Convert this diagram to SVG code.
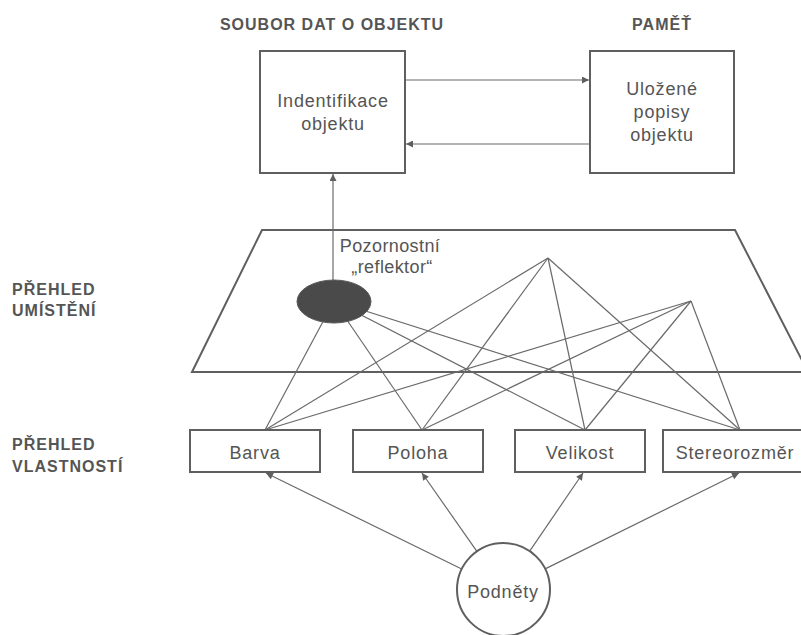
<svg xmlns="http://www.w3.org/2000/svg" width="801" height="635" viewBox="0 0 801 635">
<style>
  .bg { fill: #ffffff; }
  .box { fill: #ffffff; stroke: #5f5f5f; stroke-width: 2; }
  .plane { fill: none; stroke: #5f5f5f; stroke-width: 2; stroke-linejoin: miter; }
  .ln { stroke: #6a6a6a; stroke-width: 1.2; fill: none; }
  .arr { stroke: #6a6a6a; stroke-width: 1.2; fill: none; marker-end: url(#ah); }
  .t { font-family: "Liberation Sans", Arial, sans-serif; font-size: 18px; letter-spacing: 0.8px; fill: #555555; text-anchor: middle; }
  .h { font-family: "Liberation Sans", Arial, sans-serif; font-size: 16px; font-weight: bold; letter-spacing: 1px; fill: #555555; }
  .hc { text-anchor: middle; }
  .spot { fill: #4a4a4a; stroke: #5a5a5a; stroke-width: 1; }
  .circ { fill: #ffffff; stroke: #5f5f5f; stroke-width: 2; }
</style>
<defs>
  <marker id="ah" viewBox="0 0 10 10" refX="10" refY="5" markerWidth="9" markerHeight="7" markerUnits="userSpaceOnUse" orient="auto">
    <path d="M0,0 L10,5 L0,10 z" fill="#5f5f5f"/>
  </marker>
</defs>
<rect class="bg" x="0" y="0" width="801" height="635"/>

<g id="labels">
  <text class="h hc" x="332" y="30">SOUBOR DAT O OBJEKTU</text>
  <text class="h hc" x="662" y="30">PAMĚŤ</text>
  <text class="h" x="12" y="295">PŘEHLED</text>
  <text class="h" x="12" y="316">UMÍSTĚNÍ</text>
  <text class="h" x="12" y="450">PŘEHLED</text>
  <text class="h" x="12" y="472">VLASTNOSTÍ</text>
</g>

<g id="location-map">
  <polygon class="plane" points="262,230 735,230 808,372 192,372"/>
</g>

<g id="connectors">
  <line class="arr" x1="406" y1="80" x2="589" y2="80"/>
  <line class="arr" x1="589" y1="144" x2="406" y2="144"/>
  <line class="arr" x1="333" y1="280" x2="333" y2="174"/>
  <line class="ln" x1="334" y1="301" x2="265" y2="430"/>
  <line class="ln" x1="334" y1="301" x2="422" y2="430"/>
  <line class="ln" x1="334" y1="301" x2="585" y2="430"/>
  <line class="ln" x1="334" y1="301" x2="740" y2="430"/>
  <line class="ln" x1="548" y1="258" x2="265" y2="430"/>
  <line class="ln" x1="548" y1="258" x2="422" y2="430"/>
  <line class="ln" x1="548" y1="258" x2="585" y2="430"/>
  <line class="ln" x1="548" y1="258" x2="740" y2="430"/>
  <line class="ln" x1="691" y1="301" x2="265" y2="430"/>
  <line class="ln" x1="691" y1="301" x2="422" y2="430"/>
  <line class="ln" x1="691" y1="301" x2="585" y2="430"/>
  <line class="ln" x1="691" y1="301" x2="740" y2="430"/>
  <line class="arr" x1="461.7" y1="569" x2="266" y2="473"/>
  <line class="arr" x1="476.9" y1="551.4" x2="422" y2="473"/>
  <line class="arr" x1="529.7" y1="551.1" x2="583" y2="473"/>
  <line class="arr" x1="545.2" y1="568.9" x2="739" y2="473"/>
</g>

<g id="identifikace">
  <rect class="box" x="260" y="51" width="145" height="122"/>
  <text class="t" x="333" y="107">Indentifikace</text>
  <text class="t" x="333" y="130">objektu</text>
</g>

<g id="pamet">
  <rect class="box" x="590" y="51" width="144" height="122"/>
  <text class="t" x="662" y="95">Uložené</text>
  <text class="t" x="662" y="118">popisy</text>
  <text class="t" x="662" y="141">objektu</text>
</g>

<g id="reflektor">
  <ellipse class="spot" cx="334" cy="301.5" rx="37" ry="21.5"/>
  <text class="t" x="390" y="252" style="letter-spacing:0.4px">Pozornostní</text>
  <text class="t" x="392" y="273" style="letter-spacing:0.4px">„reflektor“</text>
</g>

<g id="barva">
  <rect class="box" x="190" y="430" width="130" height="42"/>
  <text class="t" x="255" y="459">Barva</text>
</g>

<g id="poloha">
  <rect class="box" x="353" y="430" width="130" height="42"/>
  <text class="t" x="418" y="459">Poloha</text>
</g>

<g id="velikost">
  <rect class="box" x="515" y="430" width="130" height="42"/>
  <text class="t" x="580" y="459">Velikost</text>
</g>

<g id="stereorozmer">
  <rect class="box" x="663" y="430" width="150" height="42"/>
  <text class="t" x="735" y="459">Stereorozměr</text>
</g>

<g id="podnety">
  <circle class="circ" cx="503.5" cy="589.5" r="46.5"/>
  <text class="t" x="503" y="598">Podněty</text>
</g>
</svg>
